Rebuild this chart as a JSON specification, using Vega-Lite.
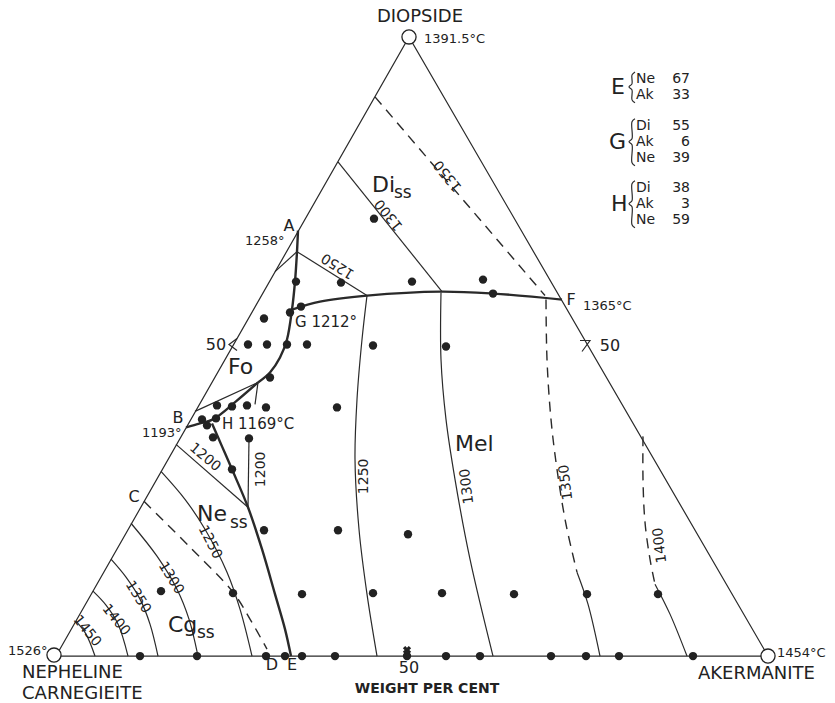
{
"$schema":"https://vega.github.io/schema/vega-lite/v6.json",
"width":835,"height":703,"autosize":{"type":"fit","contains":"padding"},"padding":0,"background":"white",
"config":{"view":{"stroke":null},"text":{"font":"DejaVu Sans","fill":"#222"},"line":{"color":"#2a2a2a"}},
"encoding":{
 "x":{"field":"x","type":"quantitative","scale":{"domain":[0,835],"nice":false,"zero":false},"axis":null},
 "y":{"field":"y","type":"quantitative","scale":{"domain":[0,703],"nice":false,"zero":false,"reverse":true},"axis":null}
},
"datasets":{
"straight":[
{"id":"tri","o":1,"x":56,"y":657},{"id":"tri","o":2,"x":409,"y":37},{"id":"tri","o":3,"x":768,"y":657},{"id":"tri","o":4,"x":56,"y":657},
{"id":"iA","o":1,"x":297,"y":252},{"id":"iA","o":2,"x":275,"y":272},
{"id":"di1300","o":1,"x":338,"y":162},{"id":"di1300","o":2,"x":442,"y":292},
{"id":"di1250","o":1,"x":297,"y":252},{"id":"di1250","o":2,"x":367,"y":296},
{"id":"fo1","o":1,"x":195,"y":412},{"id":"fo1","o":2,"x":258,"y":383},
{"id":"fo3","o":1,"x":258,"y":383},{"id":"fo3","o":2,"x":255,"y":405},
{"id":"n1200d","o":1,"x":176,"y":445},{"id":"n1200d","o":2,"x":248,"y":508},
{"id":"n1200v","o":1,"x":249,"y":439},{"id":"n1200v","o":2,"x":248,"y":508},
{"id":"arL","o":1,"x":237,"y":339},{"id":"arL","o":2,"x":229,"y":345},{"id":"arL","o":3,"x":237,"y":351},
{"id":"arR","o":1,"x":580,"y":341},{"id":"arR","o":2,"x":590,"y":341},{"id":"arR","o":3,"x":582,"y":352}
],
"curves":[
{"id":"m1250","o":1,"x":367,"y":296},{"id":"m1250","o":2,"x":362,"y":340},{"id":"m1250","o":3,"x":357,"y":400},{"id":"m1250","o":4,"x":355,"y":460},{"id":"m1250","o":5,"x":359,"y":530},{"id":"m1250","o":6,"x":367,"y":595},{"id":"m1250","o":7,"x":377,"y":657},
{"id":"m1300","o":1,"x":441,"y":293},{"id":"m1300","o":2,"x":441,"y":360},{"id":"m1300","o":3,"x":446,"y":420},{"id":"m1300","o":4,"x":455,"y":480},{"id":"m1300","o":5,"x":470,"y":560},{"id":"m1300","o":6,"x":493,"y":657},
{"id":"m1350","o":1,"x":577,"y":573},{"id":"m1350","o":2,"x":588,"y":605},{"id":"m1350","o":3,"x":600,"y":657},
{"id":"m1400","o":1,"x":655,"y":585},{"id":"m1400","o":2,"x":670,"y":615},{"id":"m1400","o":3,"x":687,"y":657},
{"id":"n1250","o":1,"x":161,"y":472},{"id":"n1250","o":2,"x":185,"y":500},{"id":"n1250","o":3,"x":205,"y":530},{"id":"n1250","o":4,"x":227,"y":573},{"id":"n1250","o":5,"x":240,"y":610},{"id":"n1250","o":6,"x":252,"y":657},
{"id":"c1300","o":1,"x":131,"y":524},{"id":"c1300","o":2,"x":157,"y":557},{"id":"c1300","o":3,"x":177,"y":590},{"id":"c1300","o":4,"x":189,"y":620},{"id":"c1300","o":5,"x":198,"y":657},
{"id":"c1350","o":1,"x":111,"y":560},{"id":"c1350","o":2,"x":126,"y":578},{"id":"c1350","o":3,"x":140,"y":600},{"id":"c1350","o":4,"x":150,"y":625},{"id":"c1350","o":5,"x":158,"y":657},
{"id":"c1400","o":1,"x":93,"y":592},{"id":"c1400","o":2,"x":106,"y":606},{"id":"c1400","o":3,"x":118,"y":625},{"id":"c1400","o":4,"x":128,"y":657},
{"id":"c1450","o":1,"x":76,"y":622},{"id":"c1450","o":2,"x":86,"y":635},{"id":"c1450","o":3,"x":95,"y":657},
{"id":"bE","o":1,"x":635,"y":72},{"id":"bE","o":2,"x":632,"y":75},{"id":"bE","o":3,"x":632,"y":84},{"id":"bE","o":4,"x":629,"y":87},{"id":"bE","o":5,"x":632,"y":90},{"id":"bE","o":6,"x":632,"y":100},{"id":"bE","o":7,"x":635,"y":103},
{"id":"bG","o":1,"x":635,"y":119},{"id":"bG","o":2,"x":632,"y":122},{"id":"bG","o":3,"x":632,"y":139},{"id":"bG","o":4,"x":629,"y":142},{"id":"bG","o":5,"x":632,"y":145},{"id":"bG","o":6,"x":632,"y":163},{"id":"bG","o":7,"x":635,"y":166},
{"id":"bH","o":1,"x":635,"y":181},{"id":"bH","o":2,"x":632,"y":184},{"id":"bH","o":3,"x":632,"y":201},{"id":"bH","o":4,"x":629,"y":204},{"id":"bH","o":5,"x":632,"y":207},{"id":"bH","o":6,"x":632,"y":225},{"id":"bH","o":7,"x":635,"y":228}
],
"thick":[
{"id":"a","o":1,"x":298,"y":231},{"id":"a","o":2,"x":297,"y":252},{"id":"a","o":3,"x":295,"y":282},{"id":"a","o":4,"x":292,"y":310},{"id":"a","o":5,"x":287,"y":340},{"id":"a","o":6,"x":280,"y":358},{"id":"a","o":7,"x":270,"y":373},{"id":"a","o":8,"x":258,"y":383},
{"id":"b","o":1,"x":186,"y":428},{"id":"b","o":2,"x":200,"y":424},{"id":"b","o":3,"x":213,"y":420},{"id":"b","o":4,"x":236,"y":402},{"id":"b","o":5,"x":258,"y":383},
{"id":"h","o":1,"x":212,"y":424},{"id":"h","o":2,"x":222,"y":447},{"id":"h","o":3,"x":232,"y":470},{"id":"h","o":4,"x":248,"y":508},{"id":"h","o":5,"x":262,"y":550},{"id":"h","o":6,"x":275,"y":595},{"id":"h","o":7,"x":285,"y":630},{"id":"h","o":8,"x":291,"y":657},
{"id":"dm","o":1,"x":292,"y":310},{"id":"dm","o":2,"x":320,"y":302},{"id":"dm","o":3,"x":367,"y":296},{"id":"dm","o":4,"x":441,"y":292},{"id":"dm","o":5,"x":493,"y":294},{"id":"dm","o":6,"x":562,"y":300}
],
"dashed":[
{"id":"d1350","o":1,"x":375,"y":97},{"id":"d1350","o":2,"x":545,"y":296},
{"id":"cd","o":1,"x":144,"y":502},{"id":"cd","o":2,"x":190,"y":548},{"id":"cd","o":3,"x":233,"y":593},{"id":"cd","o":4,"x":250,"y":620},{"id":"cd","o":5,"x":267,"y":650},
{"id":"m1350d","o":1,"x":546,"y":300},{"id":"m1350d","o":2,"x":547,"y":360},{"id":"m1350d","o":3,"x":551,"y":420},{"id":"m1350d","o":4,"x":557,"y":470},{"id":"m1350d","o":5,"x":566,"y":525},{"id":"m1350d","o":6,"x":577,"y":573},
{"id":"m1400d","o":1,"x":643,"y":437},{"id":"m1400d","o":2,"x":643,"y":480},{"id":"m1400d","o":3,"x":645,"y":523},{"id":"m1400d","o":4,"x":650,"y":560},{"id":"m1400d","o":5,"x":655,"y":585}
],
"dots":[
{"x":374,"y":219},{"x":412,"y":282},{"x":483,"y":280},{"x":493,"y":294},{"x":341,"y":283},{"x":296,"y":282},{"x":301,"y":307},{"x":290,"y":313},{"x":264,"y":319},
{"x":248,"y":345},{"x":267,"y":345},{"x":287,"y":345},{"x":307,"y":345},{"x":373,"y":346},{"x":446,"y":347},{"x":270,"y":378},
{"x":217,"y":406},{"x":232,"y":407},{"x":247,"y":406},{"x":266,"y":408},{"x":337,"y":408},{"x":202,"y":420},{"x":207,"y":426},{"x":216,"y":419},{"x":213,"y":438},{"x":249,"y":439},{"x":232,"y":470},
{"x":264,"y":531},{"x":338,"y":531},{"x":408,"y":535},
{"x":161,"y":592},{"x":233,"y":594},{"x":302,"y":595},{"x":373,"y":594},{"x":442,"y":594},{"x":514,"y":595},{"x":587,"y":595},{"x":658,"y":595},
{"x":140,"y":657},{"x":197,"y":657},{"x":266,"y":657},{"x":285,"y":657},{"x":302,"y":657},{"x":335,"y":657},{"x":407,"y":657},{"x":446,"y":657},{"x":480,"y":657},{"x":551,"y":657},{"x":586,"y":657},{"x":619,"y":657},{"x":693,"y":657}
],
"vertices":[{"x":409,"y":37},{"x":54,"y":656},{"x":768,"y":657}]
},
"layer":[
{"data":{"name":"straight"},"mark":{"type":"line","strokeWidth":1.2},"encoding":{"detail":{"field":"id"},"order":{"field":"o","type":"quantitative"}}},
{"data":{"name":"curves"},"mark":{"type":"line","strokeWidth":1.2,"interpolate":"catmull-rom"},"encoding":{"detail":{"field":"id"},"order":{"field":"o","type":"quantitative"}}},
{"data":{"name":"dashed"},"mark":{"type":"line","strokeWidth":1.4,"strokeDash":[10,7],"interpolate":"catmull-rom"},"encoding":{"detail":{"field":"id"},"order":{"field":"o","type":"quantitative"}}},
{"data":{"name":"thick"},"mark":{"type":"line","strokeWidth":2.4,"interpolate":"catmull-rom"},"encoding":{"detail":{"field":"id"},"order":{"field":"o","type":"quantitative"}}},
{"data":{"name":"dots"},"mark":{"type":"point","filled":true,"size":70,"color":"#222","opacity":1}},
{"data":{"values":[{"x":407,"y":651}]},"mark":{"type":"point","shape":"cross","angle":45,"filled":true,"size":70,"color":"#222","opacity":1}},
{"data":{"name":"vertices"},"mark":{"type":"point","filled":true,"size":200,"fill":"white","stroke":"#222","strokeWidth":1.3,"opacity":1}},
{"data":{"values":[
{"x":420,"y":17,"t":"DIOPSIDE"}]},"mark":{"type":"text","fontSize":18,"align":"center","baseline":"middle"},"encoding":{"text":{"field":"t"}}},
{"data":{"values":[
{"x":22,"y":674,"t":"NEPHELINE"},{"x":22,"y":695,"t":"CARNEGIEITE"},{"x":698,"y":675,"t":"AKERMANITE"}]},"mark":{"type":"text","fontSize":18,"align":"left","baseline":"middle"},"encoding":{"text":{"field":"t"}}},
{"data":{"values":[
{"x":424,"y":39,"t":"1391.5°C"},{"x":8,"y":652,"t":"1526°"},{"x":777,"y":654,"t":"1454°C"},{"x":583,"y":306,"t":"1365°C"},{"x":245,"y":241,"t":"1258°"},{"x":142,"y":434,"t":"1193°"}]},"mark":{"type":"text","fontSize":13,"align":"left","baseline":"middle"},"encoding":{"text":{"field":"t"}}},
{"data":{"values":[
{"x":295,"y":322,"t":"G 1212°"},{"x":222,"y":425,"t":"H 1169°C"}]},"mark":{"type":"text","fontSize":15,"align":"left","baseline":"middle"},"encoding":{"text":{"field":"t"}}},
{"data":{"values":[
{"x":289,"y":226,"t":"A"},{"x":178,"y":419,"t":"B"},{"x":134,"y":498,"t":"C"},{"x":272,"y":666,"t":"D"},{"x":292,"y":666,"t":"E"},{"x":571,"y":300,"t":"F"},
{"x":216,"y":345,"t":"50"},{"x":610,"y":346,"t":"50"},{"x":409,"y":669,"t":"50"}]},"mark":{"type":"text","fontSize":16,"align":"center","baseline":"middle"},"encoding":{"text":{"field":"t"}}},
{"data":{"values":[{"x":427,"y":690,"t":"WEIGHT PER CENT"}]},"mark":{"type":"text","fontSize":14,"fontWeight":"bold","align":"center","baseline":"middle"},"encoding":{"text":{"field":"t"}}},
{"data":{"values":[
{"x":372,"y":192,"t":"Di"},{"x":228,"y":375,"t":"Fo"},{"x":197,"y":522,"t":"Ne"},{"x":168,"y":633,"t":"Cg"},{"x":455,"y":452,"t":"Mel"}]},"mark":{"type":"text","fontSize":22,"align":"left","baseline":"alphabetic"},"encoding":{"text":{"field":"t"}}},
{"data":{"values":[
{"x":394,"y":198,"t":"ss"},{"x":230,"y":529,"t":"ss"},{"x":197,"y":639,"t":"ss"}]},"mark":{"type":"text","fontSize":17,"align":"left","baseline":"alphabetic"},"encoding":{"text":{"field":"t"}}},
{"data":{"values":[{"x":338,"y":266,"t":"1250"}]},"mark":{"type":"text","fontSize":14,"angle":212,"align":"center","baseline":"middle"},"encoding":{"text":{"field":"t"}}},
{"data":{"values":[{"x":389,"y":215,"t":"1300"},{"x":448,"y":176,"t":"1350"}]},"mark":{"type":"text","fontSize":14,"angle":231,"align":"center","baseline":"middle"},"encoding":{"text":{"field":"t"}}},
{"data":{"values":[{"x":364,"y":477,"t":"1250"},{"x":261,"y":470,"t":"1200"}]},"mark":{"type":"text","fontSize":14,"angle":270,"align":"center","baseline":"middle"},"encoding":{"text":{"field":"t"}}},
{"data":{"values":[{"x":467,"y":487,"t":"1300"},{"x":566,"y":483,"t":"1350"},{"x":660,"y":546,"t":"1400"}]},"mark":{"type":"text","fontSize":14,"angle":263,"align":"center","baseline":"middle"},"encoding":{"text":{"field":"t"}}},
{"data":{"values":[{"x":205,"y":458,"t":"1200"}]},"mark":{"type":"text","fontSize":14,"angle":40,"align":"center","baseline":"middle"},"encoding":{"text":{"field":"t"}}},
{"data":{"values":[{"x":210,"y":543,"t":"1250"}]},"mark":{"type":"text","fontSize":14,"angle":63,"align":"center","baseline":"middle"},"encoding":{"text":{"field":"t"}}},
{"data":{"values":[{"x":171,"y":579,"t":"1300"},{"x":138,"y":598,"t":"1350"}]},"mark":{"type":"text","fontSize":14,"angle":58,"align":"center","baseline":"middle"},"encoding":{"text":{"field":"t"}}},
{"data":{"values":[{"x":116,"y":621,"t":"1400"},{"x":87,"y":632,"t":"1450"}]},"mark":{"type":"text","fontSize":14,"angle":51,"align":"center","baseline":"middle"},"encoding":{"text":{"field":"t"}}},
{"data":{"values":[{"x":611,"y":87,"t":"E"},{"x":609,"y":142,"t":"G"},{"x":611,"y":204,"t":"H"}]},"mark":{"type":"text","fontSize":22,"align":"left","baseline":"middle"},"encoding":{"text":{"field":"t"}}},
{"data":{"values":[
{"x":636,"y":79,"t":"Ne"},{"x":636,"y":95,"t":"Ak"},
{"x":636,"y":126,"t":"Di"},{"x":636,"y":142,"t":"Ak"},{"x":636,"y":158,"t":"Ne"},
{"x":636,"y":188,"t":"Di"},{"x":636,"y":204,"t":"Ak"},{"x":636,"y":220,"t":"Ne"}]},"mark":{"type":"text","fontSize":14,"align":"left","baseline":"middle"},"encoding":{"text":{"field":"t"}}},
{"data":{"values":[
{"x":690,"y":79,"t":"67"},{"x":690,"y":95,"t":"33"},
{"x":690,"y":126,"t":"55"},{"x":690,"y":142,"t":"6"},{"x":690,"y":158,"t":"39"},
{"x":690,"y":188,"t":"38"},{"x":690,"y":204,"t":"3"},{"x":690,"y":220,"t":"59"}]},"mark":{"type":"text","fontSize":14,"align":"right","baseline":"middle"},"encoding":{"text":{"field":"t"}}}
]
}
